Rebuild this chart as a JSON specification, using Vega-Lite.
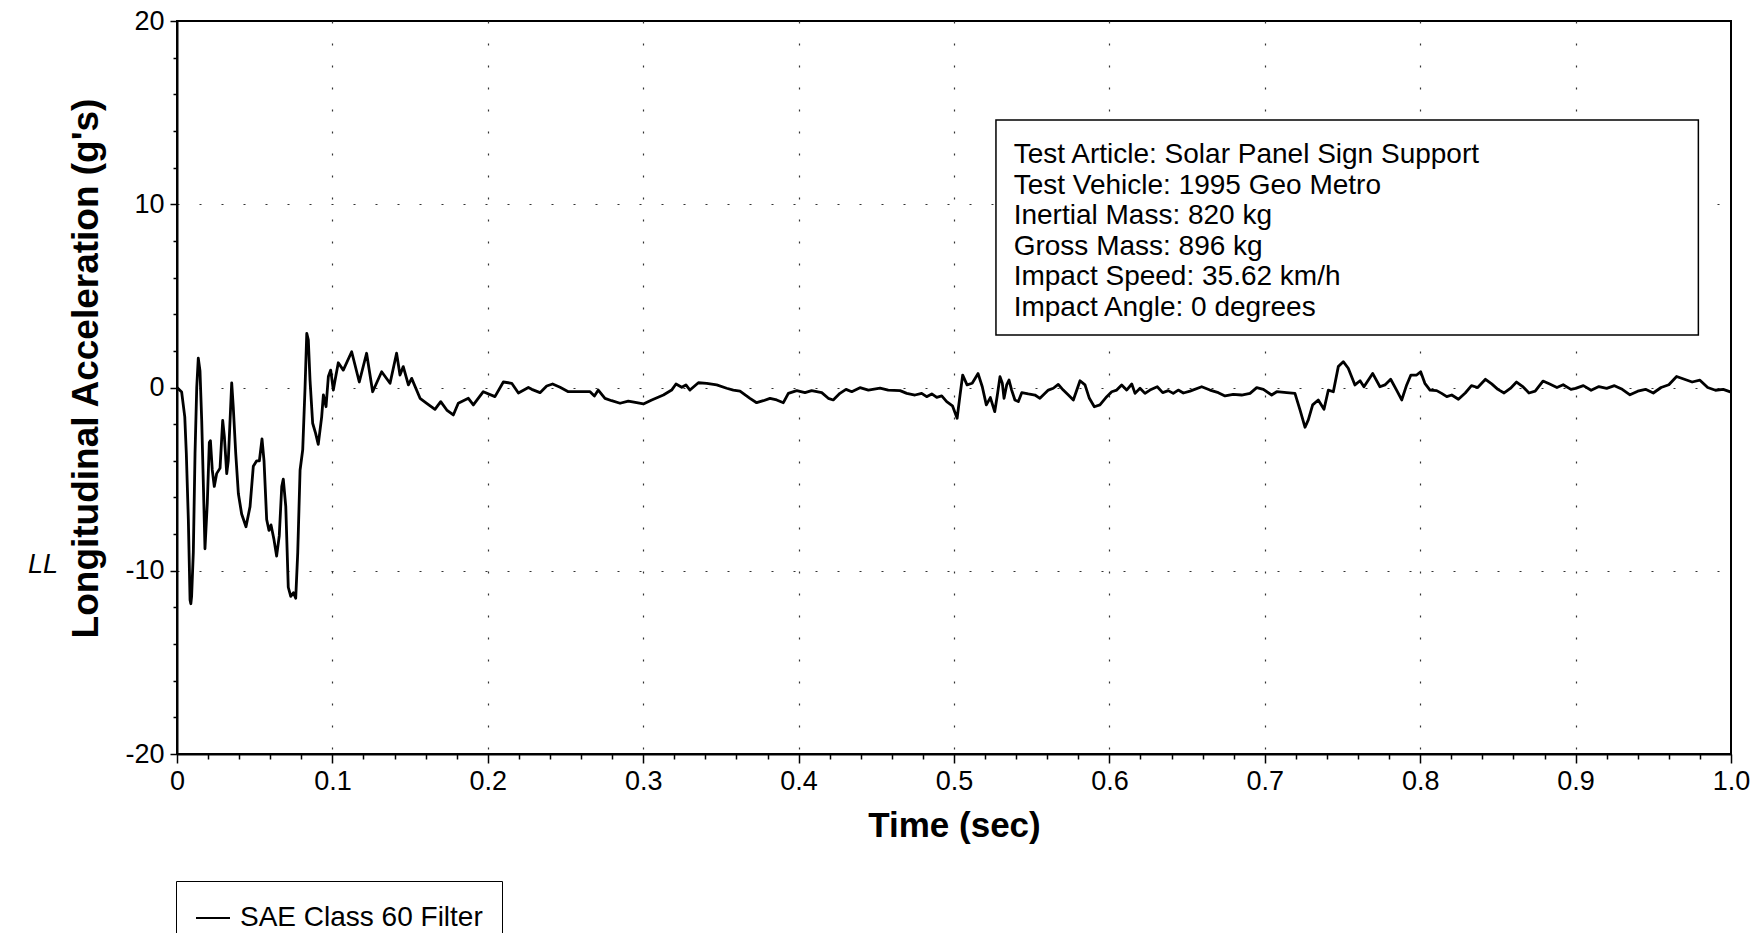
{
  "$schema": "https://vega.github.io/schema/vega-lite/v6.json",
  "width": 1554,
  "height": 733,
  "autosize": {"type": "none"},
  "padding": {"left": 177, "top": 21, "right": 25, "bottom": 179},
  "background": "white",
  "config": {
    "font": "Liberation Sans",
    "view": {"stroke": "black", "strokeWidth": 2},
    "axis": {
      "labelFont": "Liberation Sans",
      "labelColor": "black",
      "labelFontSize": 27,
      "titleFont": "Liberation Sans",
      "titleColor": "black",
      "titleFontWeight": "bold",
      "domainColor": "black",
      "domainWidth": 2,
      "tickColor": "black",
      "tickWidth": 1.5,
      "gridColor": "#333333",
      "gridDash": [2, 20],
      "gridWidth": 1.2,
      "labelOverlap": false,
      "labelFlush": false,
      "labelBound": false
    }
  },
  "resolve": {"axis": {"x": "independent", "y": "independent"}},
  "data": {
    "values": [
      {"t":0.0000,"g":0.0},{"t":0.0030,"g":-0.25},{"t":0.0050,"g":-1.6},{"t":0.0060,"g":-3.6},{"t":0.0073,"g":-7.2},{"t":0.0084,"g":-11.6},{"t":0.0089,"g":-11.8},{"t":0.0094,"g":-11.4},{"t":0.0105,"g":-9.0},{"t":0.0116,"g":-3.6},{"t":0.0127,"g":0.0},{"t":0.0137,"g":1.6},{"t":0.0148,"g":0.9},{"t":0.0159,"g":-1.8},{"t":0.0170,"g":-5.4},{"t":0.0180,"g":-8.8},{"t":0.0195,"g":-6.3},{"t":0.0208,"g":-3.0},{"t":0.0215,"g":-2.9},{"t":0.0227,"g":-4.5},{"t":0.0240,"g":-5.4},{"t":0.0255,"g":-4.7},{"t":0.0277,"g":-4.4},{"t":0.0294,"g":-1.8},{"t":0.0305,"g":-2.7},{"t":0.0320,"g":-4.7},{"t":0.0330,"g":-4.0},{"t":0.0352,"g":0.25},{"t":0.0362,"g":-1.05},{"t":0.0378,"g":-3.6},{"t":0.0395,"g":-5.8},{"t":0.0416,"g":-6.9},{"t":0.0444,"g":-7.6},{"t":0.0470,"g":-6.5},{"t":0.0491,"g":-4.3},{"t":0.0513,"g":-4.0},{"t":0.0530,"g":-4.0},{"t":0.0547,"g":-2.8},{"t":0.0560,"g":-4.0},{"t":0.0577,"g":-7.2},{"t":0.0592,"g":-7.8},{"t":0.0605,"g":-7.5},{"t":0.0624,"g":-8.3},{"t":0.0641,"g":-9.2},{"t":0.0658,"g":-8.1},{"t":0.0674,"g":-5.4},{"t":0.0684,"g":-5.0},{"t":0.0700,"g":-6.5},{"t":0.0716,"g":-10.9},{"t":0.0732,"g":-11.4},{"t":0.0749,"g":-11.2},{"t":0.0764,"g":-11.5},{"t":0.0777,"g":-9.0},{"t":0.0792,"g":-4.5},{"t":0.0809,"g":-3.4},{"t":0.0824,"g":0.0},{"t":0.0835,"g":2.95},{"t":0.0845,"g":2.6},{"t":0.0856,"g":0.4},{"t":0.0873,"g":-1.95},{"t":0.0892,"g":-2.5},{"t":0.0909,"g":-3.1},{"t":0.0931,"g":-1.6},{"t":0.0942,"g":-0.4},{"t":0.0959,"g":-1.05},{"t":0.0974,"g":0.6},{"t":0.0989,"g":0.95},{"t":0.1006,"g":-0.14},{"t":0.1017,"g":0.4},{"t":0.1038,"g":1.35},{"t":0.1070,"g":0.95},{"t":0.1124,"g":1.95},{"t":0.1173,"g":0.3},{"t":0.1220,"g":1.87},{"t":0.1259,"g":-0.23},{"t":0.1317,"g":0.86},{"t":0.1371,"g":0.23},{"t":0.1413,"g":1.87},{"t":0.1435,"g":0.68},{"t":0.1456,"g":1.14},{"t":0.1489,"g":0.14},{"t":0.1510,"g":0.5},{"t":0.1564,"g":-0.59},{"t":0.1607,"g":-0.86},{"t":0.1660,"g":-1.19},{"t":0.1697,"g":-0.77},{"t":0.1736,"g":-1.23},{"t":0.1778,"g":-1.5},{"t":0.1810,"g":-0.86},{"t":0.1875,"g":-0.59},{"t":0.1907,"g":-0.95},{"t":0.1971,"g":-0.23},{"t":0.2046,"g":-0.5},{"t":0.2100,"g":0.3},{"t":0.2154,"g":0.23},{"t":0.2197,"g":-0.3},{"t":0.2261,"g":0.0},{"t":0.2283,"g":-0.1},{"t":0.2336,"g":-0.28},{"t":0.2379,"g":0.08},{"t":0.2417,"g":0.19},{"t":0.2465,"g":0.01},{"t":0.2518,"g":-0.23},{"t":0.2593,"g":-0.23},{"t":0.2658,"g":-0.23},{"t":0.2686,"g":-0.46},{"t":0.2711,"g":-0.14},{"t":0.2754,"g":-0.59},{"t":0.2797,"g":-0.72},{"t":0.2851,"g":-0.86},{"t":0.2904,"g":-0.74},{"t":0.2958,"g":-0.83},{"t":0.3001,"g":-0.9},{"t":0.3055,"g":-0.68},{"t":0.3130,"g":-0.41},{"t":0.3183,"g":-0.14},{"t":0.3211,"g":0.19},{"t":0.3248,"g":0.01},{"t":0.3275,"g":0.14},{"t":0.3301,"g":-0.14},{"t":0.3355,"g":0.26},{"t":0.3409,"g":0.23},{"t":0.3473,"g":0.14},{"t":0.3537,"g":-0.04},{"t":0.3580,"g":-0.14},{"t":0.3623,"g":-0.2},{"t":0.3687,"g":-0.59},{"t":0.3730,"g":-0.83},{"t":0.3773,"g":-0.72},{"t":0.3816,"g":-0.59},{"t":0.3859,"g":-0.68},{"t":0.3902,"g":-0.83},{"t":0.3934,"g":-0.32},{"t":0.3988,"g":-0.17},{"t":0.4041,"g":-0.28},{"t":0.4084,"g":-0.17},{"t":0.4149,"g":-0.28},{"t":0.4191,"g":-0.59},{"t":0.4223,"g":-0.68},{"t":0.4266,"g":-0.32},{"t":0.4305,"g":-0.1},{"t":0.4342,"g":-0.23},{"t":0.4395,"g":-0.01},{"t":0.4449,"g":-0.14},{"t":0.4524,"g":-0.04},{"t":0.4577,"g":-0.14},{"t":0.4653,"g":-0.17},{"t":0.4696,"g":-0.32},{"t":0.4749,"g":-0.41},{"t":0.4792,"g":-0.32},{"t":0.4824,"g":-0.5},{"t":0.4857,"g":-0.35},{"t":0.4889,"g":-0.54},{"t":0.4921,"g":-0.46},{"t":0.4953,"g":-0.77},{"t":0.4990,"g":-1.0},{"t":0.5020,"g":-1.68},{"t":0.5039,"g":-0.4},{"t":0.5056,"g":0.68},{"t":0.5084,"g":0.14},{"t":0.5117,"g":0.23},{"t":0.5155,"g":0.76},{"t":0.5182,"g":0.04},{"t":0.5208,"g":-0.95},{"t":0.5234,"g":-0.55},{"t":0.5262,"g":-1.32},{"t":0.5279,"g":-0.41},{"t":0.5296,"g":0.59},{"t":0.5311,"g":0.23},{"t":0.5322,"g":-0.59},{"t":0.5339,"g":0.14},{"t":0.5354,"g":0.41},{"t":0.5371,"g":-0.14},{"t":0.5392,"g":-0.68},{"t":0.5414,"g":-0.77},{"t":0.5436,"g":-0.28},{"t":0.5478,"g":-0.35},{"t":0.5521,"g":-0.41},{"t":0.5553,"g":-0.59},{"t":0.5607,"g":-0.14},{"t":0.5639,"g":-0.04},{"t":0.5671,"g":0.17},{"t":0.5703,"g":-0.14},{"t":0.5736,"g":-0.41},{"t":0.5768,"g":-0.68},{"t":0.5811,"g":0.37},{"t":0.5843,"g":0.14},{"t":0.5871,"g":-0.59},{"t":0.5903,"g":-1.05},{"t":0.5939,"g":-0.95},{"t":0.5983,"g":-0.5},{"t":0.6015,"g":-0.23},{"t":0.6047,"g":-0.14},{"t":0.6079,"g":0.14},{"t":0.6111,"g":-0.14},{"t":0.6144,"g":0.19},{"t":0.6165,"g":-0.32},{"t":0.6197,"g":-0.04},{"t":0.6229,"g":-0.32},{"t":0.6261,"g":-0.14},{"t":0.6308,"g":0.04},{"t":0.6343,"g":-0.28},{"t":0.6379,"g":-0.17},{"t":0.6411,"g":-0.32},{"t":0.6443,"g":-0.14},{"t":0.6476,"g":-0.3},{"t":0.6519,"g":-0.2},{"t":0.6594,"g":0.04},{"t":0.6647,"g":-0.14},{"t":0.6701,"g":-0.28},{"t":0.6744,"g":-0.46},{"t":0.6797,"g":-0.37},{"t":0.6851,"g":-0.41},{"t":0.6905,"g":-0.32},{"t":0.6948,"g":-0.01},{"t":0.6991,"g":-0.1},{"t":0.7044,"g":-0.41},{"t":0.7077,"g":-0.23},{"t":0.7141,"g":-0.28},{"t":0.7194,"g":-0.32},{"t":0.7227,"g":-1.23},{"t":0.7259,"g":-2.17},{"t":0.7280,"g":-1.77},{"t":0.7308,"g":-0.95},{"t":0.7344,"g":-0.68},{"t":0.7381,"g":-1.19},{"t":0.7409,"g":-0.14},{"t":0.7441,"g":-0.23},{"t":0.7473,"g":1.14},{"t":0.7505,"g":1.41},{"t":0.7537,"g":1.05},{"t":0.7580,"g":0.14},{"t":0.7613,"g":0.37},{"t":0.7638,"g":0.04},{"t":0.7694,"g":0.77},{"t":0.7741,"g":0.04},{"t":0.7773,"g":0.14},{"t":0.7810,"g":0.45},{"t":0.7848,"g":-0.14},{"t":0.7881,"g":-0.68},{"t":0.7913,"g":0.14},{"t":0.7940,"g":0.68},{"t":0.7977,"g":0.68},{"t":0.8003,"g":0.86},{"t":0.8030,"g":0.23},{"t":0.8063,"g":-0.14},{"t":0.8106,"g":-0.17},{"t":0.8138,"g":-0.32},{"t":0.8171,"g":-0.5},{"t":0.8203,"g":-0.41},{"t":0.8246,"g":-0.64},{"t":0.8290,"g":-0.3},{"t":0.8330,"g":0.1},{"t":0.8370,"g":0.0},{"t":0.8420,"g":0.45},{"t":0.8460,"g":0.2},{"t":0.8500,"g":-0.1},{"t":0.8540,"g":-0.3},{"t":0.8580,"g":-0.05},{"t":0.8620,"g":0.3},{"t":0.8660,"g":0.05},{"t":0.8700,"g":-0.3},{"t":0.8740,"g":-0.2},{"t":0.8790,"g":0.35},{"t":0.8830,"g":0.2},{"t":0.8880,"g":0.0},{"t":0.8920,"g":0.15},{"t":0.8970,"g":-0.1},{"t":0.9000,"g":-0.05},{"t":0.9050,"g":0.1},{"t":0.9100,"g":-0.15},{"t":0.9150,"g":0.05},{"t":0.9200,"g":-0.05},{"t":0.9250,"g":0.1},{"t":0.9300,"g":-0.1},{"t":0.9350,"g":-0.4},{"t":0.9400,"g":-0.2},{"t":0.9450,"g":-0.1},{"t":0.9500,"g":-0.3},{"t":0.9550,"g":0.0},{"t":0.9600,"g":0.15},{"t":0.9650,"g":0.6},{"t":0.9700,"g":0.45},{"t":0.9750,"g":0.3},{"t":0.9800,"g":0.4},{"t":0.9850,"g":0.0},{"t":0.9900,"g":-0.15},{"t":0.9950,"g":-0.1},{"t":1.0000,"g":-0.25}
    ]
  },
  "layer": [
    {
      "mark": {"type": "line", "color": "black", "strokeWidth": 2.8, "strokeJoin": "round"},
      "encoding": {
        "x": {
          "field": "t", "type": "quantitative",
          "title": "Time (sec)",
          "scale": {"domain": [0, 1], "nice": false, "zero": false},
          "axis": {
            "titleFontSize": 35,
            "titlePadding": 14,
            "values": [0,0.02,0.04,0.06,0.08,0.1,0.12,0.14,0.16,0.18,0.2,0.22,0.24,0.26,0.28,0.3,0.32,0.34,0.36,0.38,0.4,0.42,0.44,0.46,0.48,0.5,0.52,0.54,0.56,0.58,0.6,0.62,0.64,0.66,0.68,0.7,0.72,0.74,0.76,0.78,0.8,0.82,0.84,0.86,0.88,0.9,0.92,0.94,0.96,0.98,1],
            "labelExpr": "datum.value === 0 ? '0' : (abs(round(datum.value*10) - datum.value*10) < 1e-6 ? format(datum.value, '.1f') : '')",
            "labelPadding": 5,
            "tickSize": {"condition": {"test": "abs(round(datum.value*10) - datum.value*10) < 1e-6", "value": 9}, "value": 5},
            "grid": true,
            "gridOpacity": {"condition": {"test": "abs(round(datum.value*10) - datum.value*10) < 1e-6 && datum.value > 0.01 && datum.value < 0.99", "value": 1}, "value": 0}
          }
        },
        "y": {
          "field": "g", "type": "quantitative",
          "title": "Longitudinal Acceleration (g's)",
          "scale": {"domain": [-20, 20], "nice": false, "zero": false},
          "axis": {
            "titleFontSize": 37,
            "titlePadding": 19,
            "titleY": 347,
            "values": [-20,-18,-16,-14,-12,-10,-8,-6,-4,-2,0,2,4,6,8,10,12,14,16,18,20],
            "labelExpr": "datum.value % 10 === 0 ? toString(datum.value) : ''",
            "labelPadding": 6,
            "tickSize": {"condition": {"test": "datum.value % 10 === 0", "value": 7}, "value": 4},
            "grid": true,
            "gridOpacity": {"condition": {"test": "datum.value % 10 === 0 && abs(datum.value) < 20", "value": 1}, "value": 0}
          }
        },
        "color": {
          "datum": "SAE Class 60 Filter",
          "scale": {"range": ["black"]},
          "legend": {
            "orient": "none",
            "legendX": -1,
            "legendY": 860,
            "title": null,
            "symbolType": "stroke",
            "symbolSize": 1156,
            "symbolStrokeWidth": 2,
            "labelFont": "Liberation Sans",
            "labelFontSize": 28,
            "labelColor": "black",
            "labelOffset": 9,
            "labelLimit": 600,
            "padding": 19,
            "strokeColor": "black",
            "fillColor": "white"
          }
        }
      }
    },
    {
      "data": {"values": [{}]},
      "mark": {"type": "rect", "fill": "white", "stroke": "black", "strokeWidth": 1.5},
      "encoding": {
        "x": {"datum": 0.527, "type": "quantitative", "axis": null},
        "x2": {"datum": 0.979},
        "y": {"datum": 14.6, "type": "quantitative", "axis": null},
        "y2": {"datum": 2.87}
      }
    },
    {
      "data": {"values": [{}]},
      "mark": {"type": "text", "align": "left", "baseline": "top", "font": "Liberation Sans", "fontSize": 28, "lineHeight": 30.6, "color": "black"},
      "encoding": {
        "x": {"datum": 0.5384, "type": "quantitative", "axis": null},
        "y": {"datum": 13.45, "type": "quantitative", "axis": null},
        "text": {"value": ["Test Article: Solar Panel Sign Support", "Test Vehicle: 1995 Geo Metro", "Inertial Mass: 820 kg", "Gross Mass: 896 kg", "Impact Speed: 35.62 km/h", "Impact Angle: 0 degrees"]}
      }
    },
    {
      "data": {"values": [{}]},
      "mark": {"type": "text", "align": "center", "baseline": "middle", "font": "Liberation Sans", "fontSize": 27, "fontStyle": "italic", "color": "black"},
      "encoding": {
        "x": {"datum": -0.0862, "type": "quantitative", "axis": null},
        "y": {"datum": -9.69, "type": "quantitative", "axis": null},
        "text": {"value": "LL"}
      }
    }
  ]
}
